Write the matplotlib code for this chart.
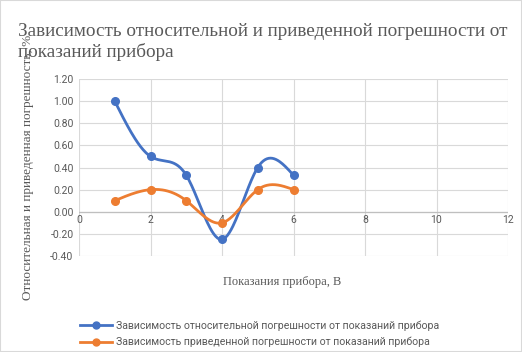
import numpy as np
import matplotlib
matplotlib.use("Agg")
from matplotlib import pyplot as plt
from matplotlib.patches import Rectangle

x = [1, 2, 3, 4, 5, 6]
relative_err = [1.00, 0.50, 0.33, -0.25, 0.40, 0.33]
reduced_err = [0.10, 0.20, 0.10, -0.10, 0.20, 0.20]

x_ticks = [0, 2, 4, 6, 8, 10, 12]
y_ticks = [-0.40, -0.20, 0.00, 0.20, 0.40, 0.60, 0.80, 1.00, 1.20]

title = "Зависимость относительной и приведенной погрешности от\nпоказаний прибора"
xlabel = "Показания прибора, В"
ylabel = "Относительная и приведенная погрешность, %"
names = ["Зависимость относительной погрешности от показаний прибора",
         "Зависимость приведенной погрешности от показаний прибора"]
colors = ["#4472C4", "#ED7D31"]
gray = "#595959"
sans = ["Roboto", "DejaVu Sans"]


def smooth(xs, ys, n=40):
    # natural cubic spline through the points
    xs = np.asarray(xs, float)
    ys = np.asarray(ys, float)
    m = len(xs)
    h = np.diff(xs)
    A = np.zeros((m, m))
    b = np.zeros(m)
    A[0, 0] = A[-1, -1] = 1
    for i in range(1, m - 1):
        A[i, i - 1] = h[i - 1]
        A[i, i] = 2 * (h[i - 1] + h[i])
        A[i, i + 1] = h[i]
        b[i] = 6 * ((ys[i + 1] - ys[i]) / h[i] - (ys[i] - ys[i - 1]) / h[i - 1])
    M = np.linalg.solve(A, b)
    sx, sy = [], []
    for i in range(m - 1):
        t = np.linspace(xs[i], xs[i + 1], n)
        a = xs[i + 1] - t
        c = t - xs[i]
        y = (M[i] * a ** 3 + M[i + 1] * c ** 3) / (6 * h[i]) \
            + (ys[i] / h[i] - M[i] * h[i] / 6) * a + (ys[i + 1] / h[i] - M[i + 1] * h[i] / 6) * c
        sx.extend(t if i == 0 else t[1:])
        sy.extend(y if i == 0 else y[1:])
    return np.array(sx), np.array(sy)


fig = plt.figure(figsize=(5.22, 3.52), dpi=100)
ax = fig.add_axes([79 / 522, 1 - 256 / 352, 429 / 522, 177 / 352])

for ys, c in zip([relative_err, reduced_err], colors):
    sx, sy = smooth(x, ys)
    ax.plot(sx, sy, color=c, lw=2.0, zorder=3, solid_capstyle="round")
    ax.plot(x, ys, "o", color=c, ms=5.5, zorder=4)

ax.set_xlim(0, 12)
ax.set_ylim(-0.40, 1.20)
ax.set_xticks(x_ticks)
ax.set_yticks(y_ticks)
ax.set_yticklabels([f"{v:.2f}" for v in y_ticks], fontsize=7.5, color=gray, family=sans)
ax.set_xticklabels([])
for v in x_ticks:
    ax.text(v, -0.025, str(v), ha="center", va="top", fontsize=7.5, color=gray, family=sans)
ax.grid(color="#d9d9d9", lw=0.8)
ax.set_axisbelow(True)
ax.axhline(0, color="#bfbfbf", lw=0.9, zorder=2)
for s in ax.spines.values():
    s.set_visible(False)
ax.tick_params(length=0, pad=4)

fig.text(282 / 522, 1 - 282 / 352, xlabel, family="Liberation Serif", fontsize=9,
         color=gray, ha="center", va="center")
fig.text(28 / 522, 1 - 167 / 352, ylabel, rotation=90, family="Liberation Serif",
         fontsize=9.5, color=gray, ha="center", va="center")

fig.text(18 / 522, 1 - 31 / 352, title.split("\n")[0], family="Liberation Serif",
         fontsize=13.8, color=gray, ha="left", va="center")
fig.text(18 / 522, 1 - 52 / 352, title.split("\n")[1], family="Liberation Serif",
         fontsize=13.8, color=gray, ha="left", va="center")

handles = [plt.Line2D([], [], color=c, lw=2, marker="o", ms=5) for c in colors]
fig.legend(handles, names, loc="center left", bbox_to_anchor=(80 / 522, 1 - 334 / 352),
           frameon=False, prop={"family": sans, "size": 7.6}, labelcolor=gray,
           handlelength=3.0, handletextpad=0.4, labelspacing=0.55,
           borderaxespad=0, borderpad=0)

fig.add_artist(Rectangle((0, 0), 1, 1, transform=fig.transFigure, fill=False,
                         edgecolor="#d9d9d9", lw=1.5))

fig.savefig("out.png", dpi=100)
